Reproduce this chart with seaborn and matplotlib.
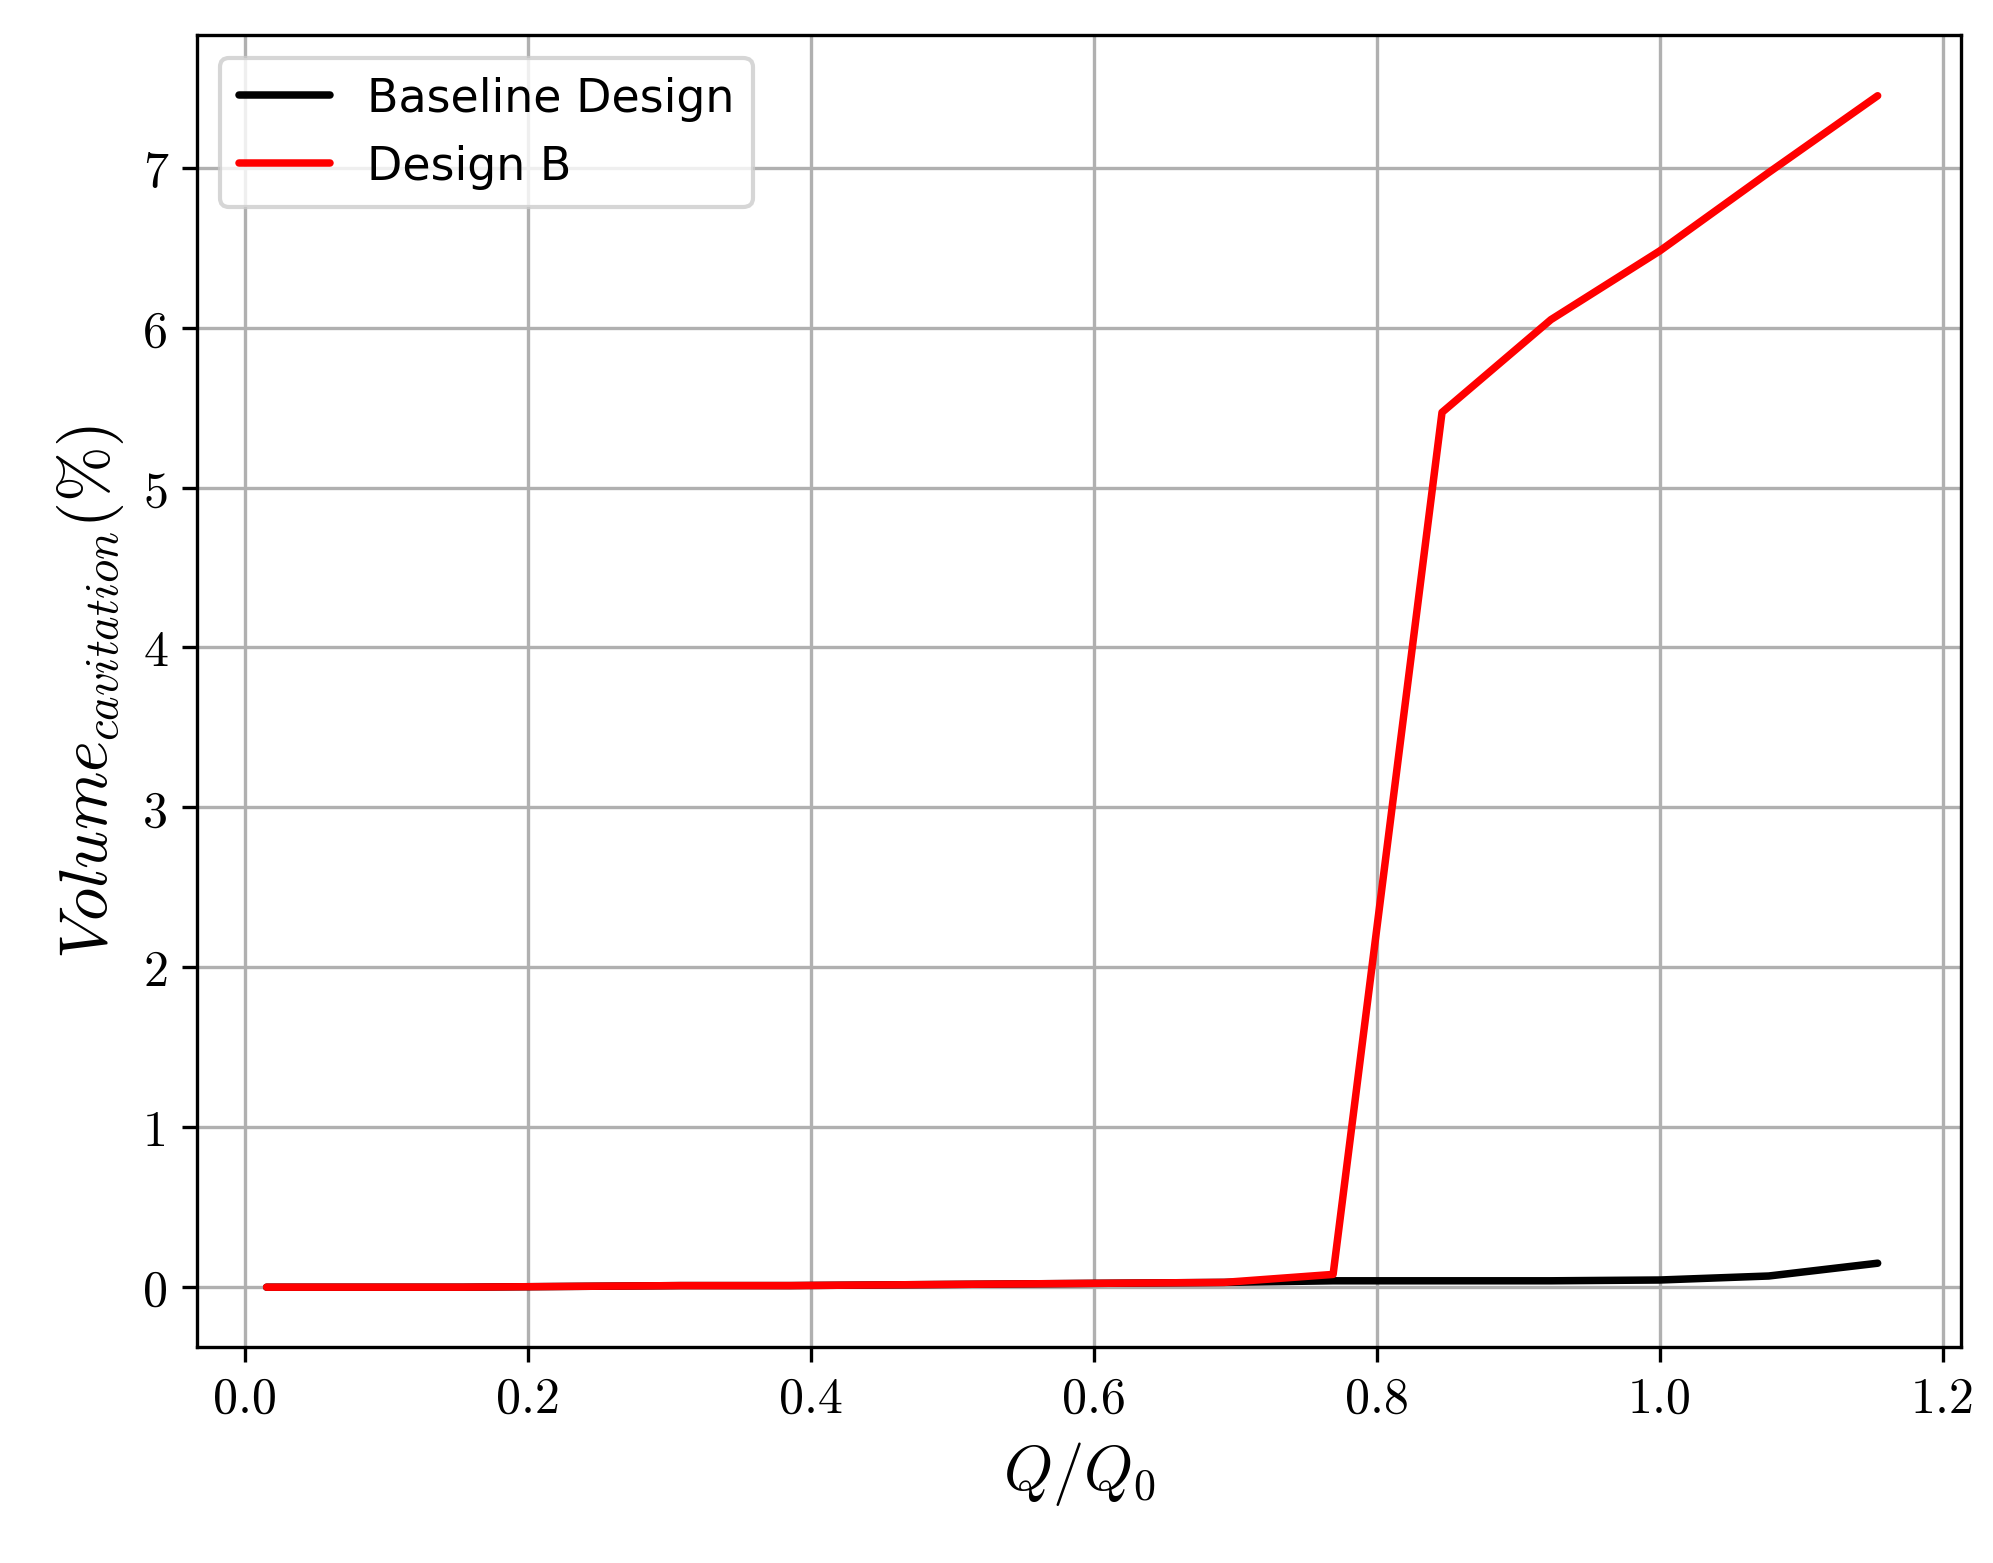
import numpy as np
import pandas as pd
import matplotlib
matplotlib.use("Agg")
import matplotlib.pyplot as plt
import seaborn as sns

# Flow ratio points (Q/Q0)
q_ratio = [0.015, 0.077, 0.154, 0.231, 0.308, 0.385, 0.462, 0.538, 0.615, 0.692,
           0.769, 0.846, 0.923, 1.000, 1.077, 1.154]
baseline = [0.0, 0.0, 0.0, 0.005, 0.01, 0.01, 0.015, 0.02, 0.025, 0.03,
            0.04, 0.04, 0.04, 0.045, 0.07, 0.15]
design_b = [0.0, 0.0, 0.0, 0.005, 0.01, 0.01, 0.015, 0.02, 0.025, 0.03,
            0.08, 5.47, 6.05, 6.48, 6.97, 7.45]

df = pd.DataFrame({"q": q_ratio * 2,
                   "vol": baseline + design_b,
                   "design": ["Baseline Design"] * len(q_ratio) + ["Design B"] * len(q_ratio)})

sns.set_style("ticks")
plt.rcParams["mathtext.fontset"] = "cm"
plt.rcParams["font.family"] = "DejaVu Sans"
plt.rcParams["text.color"] = "black"
plt.rcParams["axes.labelcolor"] = "black"
plt.rcParams["xtick.color"] = "black"
plt.rcParams["ytick.color"] = "black"

fig = plt.figure(figsize=(1993 / 300, 1564 / 300), dpi=300)
ax = fig.add_axes([0.099, 0.138, 0.885, 0.839])

sns.lineplot(data=df, x="q", y="vol", hue="design",
             palette={"Baseline Design": "black", "Design B": "red"},
             linewidth=1.8, ax=ax)

ax.set_xlim(-0.034, 1.213)
ax.set_ylim(-0.375, 7.83)
ax.set_xticks(np.arange(0, 1.21, 0.2))
ax.set_yticks(range(0, 8))
ax.grid(True, color="#b0b0b0", linewidth=0.8)
for s in ax.spines.values():
    s.set_color("black")
    s.set_linewidth(0.8)

ax.set_xlabel(r"$Q/Q_0$", fontsize=15)
ax.set_ylabel(r"$Volume_{cavitation}(\%)$", fontsize=16)
for lbl in ax.get_xticklabels() + ax.get_yticklabels():
    lbl.set_fontfamily("cmr10")
    lbl.set_fontsize(12)
ax.tick_params(direction="out", length=3.5, width=0.8, color="black")

leg = ax.legend(loc="upper left", fontsize=11, frameon=True, title=None)
leg.get_frame().set_edgecolor("#cccccc")
for t in leg.get_texts():
    t.set_color("black")

fig.savefig("out.png", dpi=300)
